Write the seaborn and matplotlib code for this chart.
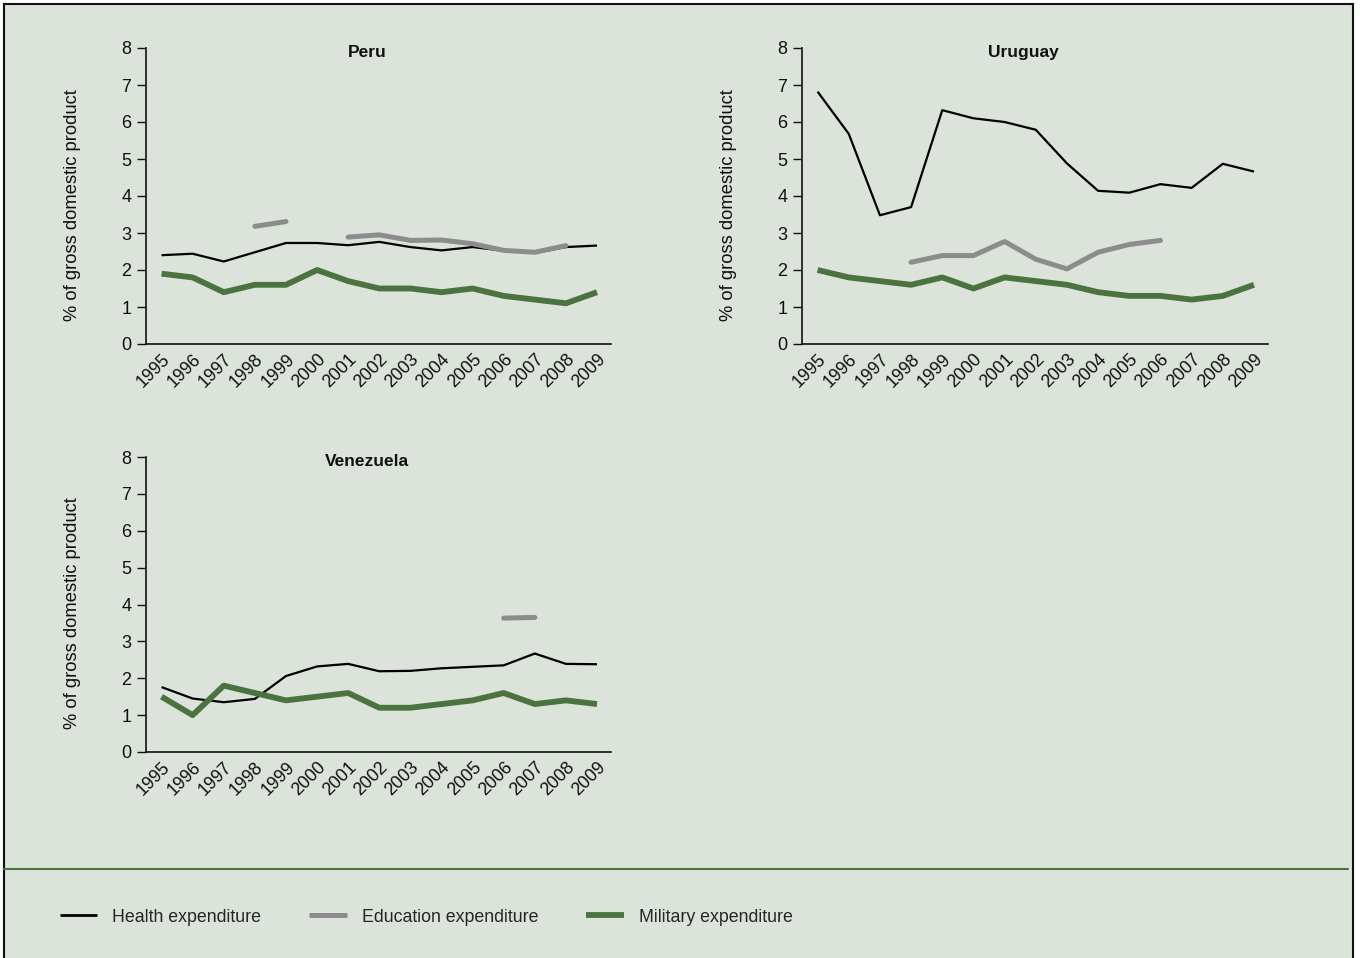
import numpy as np
import pandas as pd
import matplotlib
matplotlib.use('Agg')
import matplotlib.pyplot as plt
from matplotlib.lines import Line2D
from matplotlib.patches import Rectangle
import seaborn as sns

years = list(range(1995, 2010))
nan = np.nan

# % of GDP
peru_health = [2.4, 2.44, 2.23, 2.48, 2.73, 2.73, 2.67, 2.76, 2.62, 2.53, 2.62, 2.52, 2.46, 2.62, 2.66]
peru_edu = [nan, nan, nan, 3.18, 3.31, nan, 2.89, 2.95, 2.8, 2.81, 2.71, 2.53, 2.48, 2.66, nan]
peru_mil = [1.9, 1.8, 1.4, 1.6, 1.6, 2.0, 1.7, 1.5, 1.5, 1.4, 1.5, 1.3, 1.2, 1.1, 1.4]

uru_health = [6.82, 5.68, 3.48, 3.7, 6.32, 6.1, 6.0, 5.79, 4.88, 4.14, 4.09, 4.32, 4.22, 4.87, 4.66]
uru_edu = [nan, nan, nan, 2.21, 2.39, 2.39, 2.77, 2.29, 2.03, 2.48, 2.69, 2.8, nan, nan, nan]
uru_mil = [2.0, 1.8, 1.7, 1.6, 1.8, 1.5, 1.8, 1.7, 1.6, 1.4, 1.3, 1.3, 1.2, 1.3, 1.6]

ven_health = [1.76, 1.45, 1.35, 1.44, 2.06, 2.32, 2.39, 2.19, 2.2, 2.27, 2.31, 2.35, 2.67, 2.39, 2.38]
ven_edu = [nan, nan, nan, nan, nan, nan, nan, nan, nan, nan, nan, 3.63, 3.65, nan, nan]
ven_mil = [1.5, 1.0, 1.8, 1.6, 1.4, 1.5, 1.6, 1.2, 1.2, 1.3, 1.4, 1.6, 1.3, 1.4, 1.3]

series_names = ['Health expenditure', 'Education expenditure', 'Military expenditure']
colors = {'Health expenditure': '#000000',
          'Education expenditure': '#8c8c8c',
          'Military expenditure': '#4a7340'}
widths = {'Health expenditure': 1.6,
          'Education expenditure': 3.6,
          'Military expenditure': 4.2}

countries = {
    'Peru': [peru_health, peru_edu, peru_mil],
    'Uruguay': [uru_health, uru_edu, uru_mil],
    'Venezuela': [ven_health, ven_edu, ven_mil],
}


def to_long(vals):
    # split at gaps so lines are not joined across missing years
    rows = []
    for name, v in zip(series_names, vals):
        seg = 0
        for yr, val in zip(years, v):
            if np.isnan(val):
                seg += 1
                continue
            rows.append((yr, val, name, seg))
    return pd.DataFrame(rows, columns=['year', 'value', 'series', 'seg'])


bg = '#dbe3da'
sns.set_theme(style='ticks')
plt.rcParams['font.family'] = ['Liberation Sans', 'DejaVu Sans']

fig = plt.figure(figsize=(13.6, 9.58), dpi=100, facecolor='white')
fig.add_artist(Rectangle((4 / 1360, -0.01), 1349 / 1360, 1 - 4 / 958 + 0.01,
                         transform=fig.transFigure, facecolor=bg,
                         edgecolor='#111111', lw=1.5, zorder=0))

positions = {
    'Peru': [146 / 1360, 1 - 344 / 958, 465 / 1360, 296 / 958],
    'Uruguay': [802 / 1360, 1 - 344 / 958, 466 / 1360, 296 / 958],
    'Venezuela': [146 / 1360, 1 - 752 / 958, 465 / 1360, 295 / 958],
}

for country, vals in countries.items():
    ax = fig.add_axes(positions[country])
    ax.set_facecolor('none')
    df = to_long(vals)
    for name in series_names:
        sub = df[df['series'] == name]
        sns.lineplot(data=sub, x='year', y='value', units='seg', estimator=None,
                     color=colors[name], lw=widths[name], ax=ax,
                     solid_capstyle='round' if name == 'Education expenditure' else 'butt')
    ax.set_xlim(1994.5, 2009.45)
    ax.set_ylim(0, 8)
    ax.set_yticks(range(0, 9))
    ax.set_xticks(years)
    ax.set_xticklabels([str(y) for y in years], rotation=45, ha='right',
                       rotation_mode='anchor', fontsize=12.8, color='#111111')
    ax.tick_params(axis='x', length=0, pad=5)
    ax.tick_params(axis='y', length=6.5, width=1, pad=4, labelsize=13, colors='#111111')
    for s in ['top', 'right']:
        ax.spines[s].set_visible(False)
    for s in ['left', 'bottom']:
        ax.spines[s].set_color('#111111')
        ax.spines[s].set_linewidth(1.2)
    ax.set_xlabel('')
    ax.set_ylabel('% of gross domestic product', fontsize=13.2, color='#111111')
    ax.yaxis.set_label_coords(-0.14, 0.47)
    ax.text(0.475, 0.985, country, transform=ax.transAxes, ha='center', va='center',
            fontsize=12.5, fontweight='bold', color='#111111')

fig.add_artist(Line2D([4 / 1360, 1348 / 1360], [1 - 869 / 958, 1 - 869 / 958],
                      transform=fig.transFigure, color='#4a7340', lw=1.5))

handles = [Line2D([], [], color=colors[n], solid_capstyle='butt',
                  lw=widths[n] if n != 'Health expenditure' else 2)
           for n in series_names]
fig.legend(handles, series_names, loc='center left',
           bbox_to_anchor=(60 / 1360, 1 - 917 / 958), ncol=3, frameon=False,
           fontsize=12.8, handlelength=2.1, handletextpad=0.85, columnspacing=2.7,
           borderpad=0, borderaxespad=0)

fig.savefig('out.png', dpi=100, facecolor='white')
